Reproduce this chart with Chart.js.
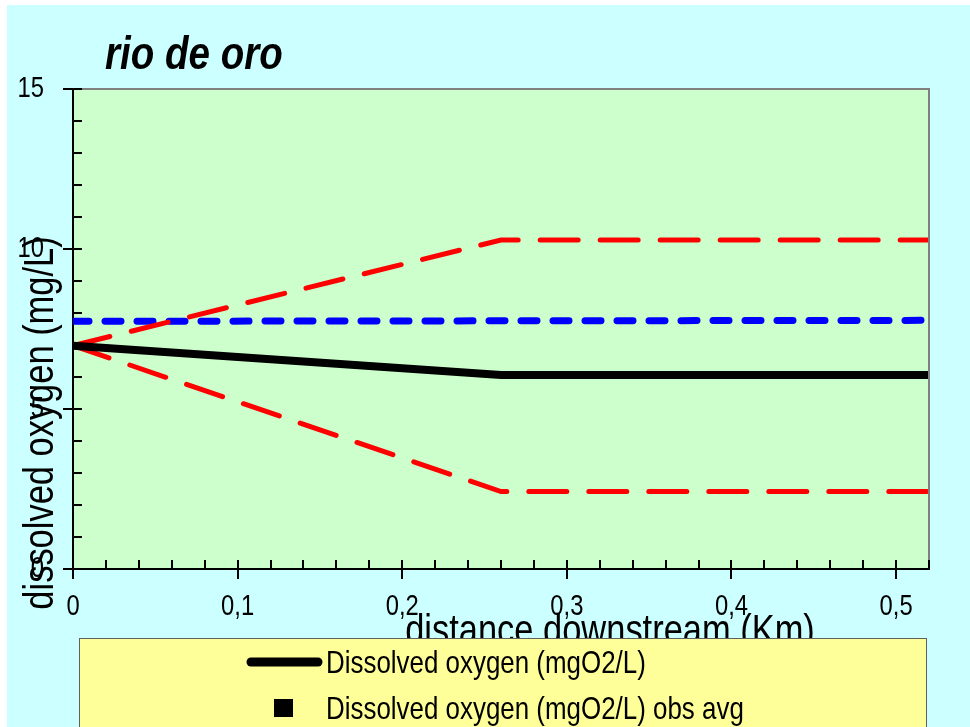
<!DOCTYPE html>
<html lang="en">

<head>
    <meta charset="UTF-8">
    <title>rio de oro</title>
    <style>
        body {
            margin: 0;
            background: white;
        }

        canvas {
            display: block;
        }
    </style>
</head>

<body>

    <script src="https://cdn.jsdelivr.net/npm/chart.js"></script>

    <canvas id="doChart" width="970" height="727"></canvas>

    <script>
        // chart data
        const chartTitle = 'rio de oro';
        const xAxisTitle = 'distance downstream (Km)';
        const yAxisTitle = 'dissolved oxygen (mg/L)';

        const distKm = [0, 0.26, 0.52];
        const doModel = [6.98, 6.06, 6.06];      // Dissolved oxygen (mgO2/L)
        const doUpper = [6.98, 10.28, 10.28];    // upper bound
        const doLower = [6.98, 2.42, 2.42];      // lower bound
        const satDist = [0, 0.52];
        const doSat = [7.74, 7.77];              // saturation
        const obsDist = [];
        const doObsAvg = [];                     // Dissolved oxygen (mgO2/L) obs avg

        const xTickValues = [0, 0.1, 0.2, 0.3, 0.4, 0.5];
        const xTickLabels = ['0', '0,1', '0,2', '0,3', '0,4', '0,5'];
        const yTickValues = [0, 5, 10, 15];
        const yTickLabels = ['0', '5', '10', '15'];

        const FONT = "'Liberation Sans', Arial, sans-serif";
        const NARROW = 0.82;   // the original uses a narrow face, squeeze horizontally

        function toPoints(xs, ys) {
            return xs.map((x, i) => ({ x: x, y: ys[i] }));
        }

        function narrowText(ctx, text, x, y, font, align, baseline, rot, squeeze) {
            ctx.save();
            ctx.translate(x, y);
            if (rot) ctx.rotate(rot);
            ctx.scale(squeeze || NARROW, 1);
            ctx.font = font;
            ctx.textAlign = align;
            ctx.textBaseline = baseline;
            ctx.fillText(text, 0, 0);
            ctx.restore();
        }

        // background, plot area, tick marks, titles, legend box
        const decorPlugin = {
            id: 'decor',
            beforeDraw(chart) {
                const ctx = chart.ctx;
                const a = chart.chartArea;
                ctx.save();
                ctx.fillStyle = '#ffffff';
                ctx.fillRect(0, 0, chart.width, chart.height);
                ctx.fillStyle = '#ccffff';
                ctx.fillRect(7, 5, chart.width - 7, chart.height - 5);
                ctx.fillStyle = '#ccffcc';
                ctx.fillRect(a.left, a.top, a.right - a.left, a.bottom - a.top);
                ctx.restore();
            },
            afterDraw(chart) {
                const ctx = chart.ctx;
                const a = chart.chartArea;
                const xs = chart.scales.x;
                const ys = chart.scales.y;
                ctx.save();

                // grey frame on top and right
                ctx.strokeStyle = '#808080';
                ctx.lineWidth = 2;
                ctx.beginPath();
                ctx.moveTo(a.left, a.top);
                ctx.lineTo(a.right, a.top);
                ctx.lineTo(a.right, a.bottom);
                ctx.stroke();

                // tick marks
                ctx.strokeStyle = '#000000';
                ctx.lineWidth = 2;
                ctx.beginPath();
                for (let v = 0; v <= 15.001; v += 1) {
                    const py = Math.round(ys.getPixelForValue(v));
                    const major = yTickValues.some(t => Math.abs(t - v) < 1e-6);
                    ctx.moveTo(major ? a.left - 10 : a.left, py);
                    ctx.lineTo(a.left + 9, py);
                }
                for (let v = 0; v <= 0.52 + 1e-6; v += 0.02) {
                    const px = Math.round(xs.getPixelForValue(v));
                    const major = xTickValues.some(t => Math.abs(t - v) < 1e-6);
                    ctx.moveTo(px, a.bottom - 9);
                    ctx.lineTo(px, major ? a.bottom + 10 : a.bottom);
                }
                ctx.stroke();

                ctx.fillStyle = '#000000';

                // tick labels
                const tickFont = '29px ' + FONT;
                yTickValues.forEach((v, i) => {
                    narrowText(ctx, yTickLabels[i], 44, ys.getPixelForValue(v), tickFont, 'right', 'middle');
                });
                xTickValues.forEach((v, i) => {
                    narrowText(ctx, xTickLabels[i], xs.getPixelForValue(v), 607, tickFont, 'center', 'middle');
                });

                // chart title
                narrowText(ctx, chartTitle, 105, 69, 'italic bold 47px ' + FONT, 'left', 'alphabetic');

                // axis titles
                narrowText(ctx, xAxisTitle, 610, 644, '42px ' + FONT, 'center', 'alphabetic');
                narrowText(ctx, yAxisTitle, 53, 423, '42px ' + FONT, 'center', 'alphabetic', -Math.PI / 2);

                // legend box
                ctx.fillStyle = '#ffff99';
                ctx.fillRect(79, 638, 848, chart.height - 638 + 5);
                ctx.strokeStyle = '#606060';
                ctx.lineWidth = 1;
                ctx.strokeRect(79.5, 638.5, 847, chart.height);

                const items = chart.data.datasets.filter(d => d.inLegend);
                items.forEach((d, i) => {
                    const cy = 662 + i * 46;
                    if (d.showLine) {
                        ctx.strokeStyle = d.borderColor;
                        ctx.lineWidth = 9;
                        ctx.lineCap = 'round';
                        ctx.beginPath();
                        ctx.moveTo(251, cy);
                        ctx.lineTo(318, cy);
                        ctx.stroke();
                    } else {
                        ctx.fillStyle = d.pointBackgroundColor;
                        ctx.fillRect(274, cy - 9, 19, 18);
                    }
                    ctx.fillStyle = '#000000';
                    narrowText(ctx, d.label, 326, cy + 11, '32px ' + FONT, 'left', 'alphabetic', 0, 0.81);
                });

                ctx.restore();
            }
        };

        const ctx = document.getElementById('doChart').getContext('2d');

        const chart = new Chart(ctx, {
            type: 'scatter',
            data: {
                datasets: [
                    {
                        label: 'Dissolved oxygen (mgO2/L)',
                        data: toPoints(distKm, doModel),
                        showLine: true,
                        inLegend: true,
                        borderColor: '#000000',
                        borderWidth: 8,
                        pointRadius: 0,
                        order: 1
                    },
                    {
                        label: 'Dissolved oxygen (mgO2/L) obs avg',
                        data: toPoints(obsDist, doObsAvg),
                        showLine: false,
                        inLegend: true,
                        pointStyle: 'rect',
                        pointRadius: 9,
                        pointBackgroundColor: '#000000',
                        pointBorderColor: '#000000',
                        order: 0
                    },
                    {
                        label: 'Dissolved oxygen (mgO2/L) upper',
                        data: toPoints(distKm, doUpper),
                        showLine: true,
                        borderColor: '#ff0000',
                        borderWidth: 5,
                        borderDash: [38, 22],
                        borderCapStyle: 'round',
                        pointRadius: 0,
                        order: 2
                    },
                    {
                        label: 'Dissolved oxygen (mgO2/L) lower',
                        data: toPoints(distKm, doLower),
                        showLine: true,
                        borderColor: '#ff0000',
                        borderWidth: 5,
                        borderDash: [38, 22],
                        borderCapStyle: 'round',
                        pointRadius: 0,
                        order: 3
                    },
                    {
                        label: 'Saturation (mgO2/L)',
                        data: toPoints(satDist, doSat),
                        showLine: true,
                        borderColor: '#0000ff',
                        borderWidth: 7,
                        borderDash: [16, 16],
                        borderCapStyle: 'round',
                        pointRadius: 0,
                        order: 4
                    }
                ]
            },
            options: {
                responsive: false,
                animation: false,
                layout: {
                    padding: { left: 0, top: 89, right: 41, bottom: 0 }
                },
                plugins: {
                    legend: { display: false },
                    tooltip: { enabled: false },
                    title: { display: false }
                },
                scales: {
                    x: {
                        type: 'linear',
                        min: 0,
                        max: 0.52,
                        afterBuildTicks: s => { s.ticks = xTickValues.map(v => ({ value: v })); },
                        afterFit: s => { s.height = 158; },
                        grid: { display: false, drawTicks: false },
                        border: { display: true, color: '#000000', width: 2 },
                        ticks: { display: false }
                    },
                    y: {
                        type: 'linear',
                        min: 0,
                        max: 15,
                        afterBuildTicks: s => { s.ticks = yTickValues.map(v => ({ value: v })); },
                        afterFit: s => { s.width = 73; },
                        grid: { display: false, drawTicks: false },
                        border: { display: true, color: '#000000', width: 2 },
                        ticks: { display: false }
                    }
                }
            },
            plugins: [decorPlugin]
        });
    </script>

</body>

</html>
